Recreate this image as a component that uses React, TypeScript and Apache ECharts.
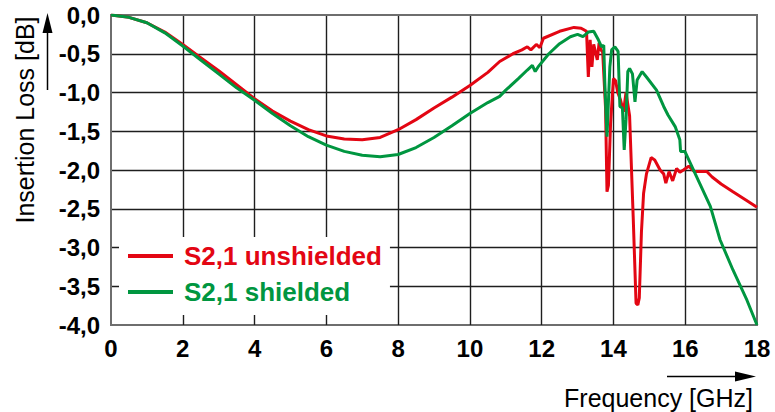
import React, { useEffect, useRef } from "react";
import * as echarts from "echarts";

// ---- data ----
const xTicks = [0, 2, 4, 6, 8, 10, 12, 14, 16, 18];
const seriesNames = ["S2,1 unshielded", "S2,1 shielded"];

const freqUnshielded = [
  0, 0.5, 1, 1.5, 2, 2.5, 3, 3.5, 4, 4.5, 5, 5.5, 6, 6.5, 7, 7.5, 8, 8.5, 9, 9.5, 10, 10.5,
  10.83, 11.2, 11.45, 11.6, 11.7, 11.85, 11.95, 12.05, 12.5, 12.9, 13.1, 13.25, 13.3, 13.35,
  13.4, 13.45, 13.55, 13.6, 13.65, 13.7, 13.78, 13.82, 13.86, 13.92, 14.0, 14.06, 14.12, 14.2,
  14.28, 14.35, 14.45, 14.55, 14.63, 14.68, 14.72, 14.78, 14.84, 14.92, 15.05, 15.15, 15.3, 15.4,
  15.46, 15.55, 15.65, 15.76, 15.85, 15.95, 16.1, 16.25, 16.6, 16.75, 17.0, 17.33, 17.7, 18.0,
];
const lossUnshielded = [
  0, -0.03, -0.1, -0.22, -0.38, -0.55, -0.72, -0.9, -1.08, -1.24, -1.37, -1.48, -1.56, -1.6, -1.61,
  -1.58, -1.48, -1.35, -1.2, -1.06, -0.91, -0.74, -0.6, -0.5, -0.45, -0.41, -0.45, -0.38, -0.42,
  -0.3, -0.21, -0.16, -0.17, -0.21, -0.8, -0.32, -0.67, -0.38, -0.58, -0.36, -0.45, -0.48, -1.2,
  -2.28, -2.2, -1.4, -0.82, -0.85, -1.0, -1.1, -1.25, -1.0, -1.3, -2.6, -3.72, -3.74, -3.65, -2.8,
  -2.3, -2.05, -1.84, -1.87, -2.0, -2.05, -2.17, -2.02, -2.14, -1.98, -2.03, -2.0, -1.95, -2.02,
  -2.02, -2.09, -2.18, -2.28, -2.39, -2.48,
];

const freqShielded = [
  0, 0.5, 1, 1.5, 2, 2.5, 3, 3.5, 4, 4.5, 5, 5.5, 6, 6.5, 7, 7.5, 8, 8.5, 9, 9.5, 10, 10.5,
  10.83, 11.0, 11.35, 11.6, 11.74, 11.82, 11.9, 12.2, 12.5, 12.8, 13.0, 13.15, 13.3, 13.45, 13.58,
  13.67, 13.73, 13.76, 13.82, 13.9, 13.95, 14.04, 14.13, 14.18, 14.25, 14.3, 14.35, 14.4, 14.45,
  14.53, 14.6, 14.66, 14.8, 14.92, 15.2, 15.4, 15.52, 15.72, 15.85, 15.87, 15.99, 16.4, 16.7,
  16.97, 17.33, 17.72, 18.0,
];
const lossShielded = [
  0, -0.03, -0.1, -0.23, -0.4, -0.58, -0.76, -0.94, -1.1, -1.27, -1.43, -1.57, -1.68, -1.76, -1.81,
  -1.83, -1.8, -1.71, -1.58, -1.43, -1.27, -1.13, -1.05, -0.97, -0.82, -0.71, -0.65, -0.73, -0.67,
  -0.5, -0.37, -0.28, -0.25, -0.28, -0.22, -0.21, -0.32, -0.41, -0.39, -0.88, -1.57, -0.67, -0.45,
  -0.41, -0.47, -1.18, -1.2, -1.74, -1.35, -0.73, -0.69, -0.76, -1.12, -0.84, -0.73, -0.8, -0.97,
  -1.18, -1.29, -1.44, -1.61, -1.76, -1.76, -2.17, -2.47, -2.9, -3.29, -3.68, -4.0,
];

const RED = "#e30613";
const GREEN = "#009640";
const FONT = "'Liberation Sans', Arial, Helvetica, sans-serif";

export default function App() {
  const ref = useRef<HTMLDivElement>(null);

  useEffect(() => {
    if (!ref.current) return;
    const chart = echarts.init(ref.current, null, { renderer: "svg" });
    const red = freqUnshielded.map((f, i) => [f, lossUnshielded[i]]);
    const green = freqShielded.map((f, i) => [f, lossShielded[i]]);

    chart.setOption({
      animation: false,
      backgroundColor: "#ffffff",
      textStyle: { fontFamily: FONT },
      grid: {
        left: 111,
        right: 18,
        top: 15,
        bottom: 87,
        show: true,
        borderColor: "#6e6e6e",
        borderWidth: 2,
        backgroundColor: "transparent",
      },
      legend: {
        left: 119,
        top: 237,
        orient: "vertical",
        backgroundColor: "#ffffff",
        padding: [4, 8, 8, 9],
        itemGap: 6,
        itemWidth: 45,
        itemHeight: 4,
        icon: "rect",
        data: [
          { name: seriesNames[0], textStyle: { color: RED } },
          { name: seriesNames[1], textStyle: { color: GREEN } },
        ],
        textStyle: {
          fontFamily: FONT,
          fontSize: 26,
          fontWeight: "bold",
          lineHeight: 30,
          padding: [0, 0, 0, 6],
        },
      },
      xAxis: {
        type: "value",
        min: xTicks[0],
        max: xTicks[xTicks.length - 1],
        interval: 2,
        axisLine: { show: true, lineStyle: { color: "#6e6e6e", width: 2 } },
        axisTick: { show: false },
        axisLabel: {
          color: "#000",
          fontFamily: FONT,
          fontSize: 24,
          fontWeight: "bold",
          margin: 11,
        },
        splitLine: {
          show: true,
          showMinLine: false,
          showMaxLine: false,
          lineStyle: { color: "#1e1e1e", width: 1.4 },
        },
      },
      yAxis: {
        type: "value",
        min: -4,
        max: 0,
        interval: 0.5,
        axisLine: { show: true, lineStyle: { color: "#6e6e6e", width: 2 } },
        axisTick: { show: false },
        axisLabel: {
          color: "#000",
          fontFamily: FONT,
          fontSize: 24,
          fontWeight: "bold",
          margin: 11,
          formatter: (v: number) => v.toFixed(1).replace(".", ","),
        },
        splitLine: {
          show: true,
          showMinLine: false,
          showMaxLine: false,
          lineStyle: { color: "#1e1e1e", width: 1.4 },
        },
      },
      series: [
        {
          name: seriesNames[0],
          type: "line",
          data: red,
          showSymbol: false,
          symbol: "none",
          lineStyle: { color: RED, width: 3 },
          itemStyle: { color: RED },
          z: 2,
        },
        {
          name: seriesNames[1],
          type: "line",
          data: green,
          showSymbol: false,
          symbol: "none",
          lineStyle: { color: GREEN, width: 3 },
          itemStyle: { color: GREEN },
          z: 3,
        },
      ],
      graphic: [
        {
          type: "text",
          x: 25,
          y: 120,
          rotation: Math.PI / 2,
          style: {
            text: "Insertion Loss [dB]",
            font: `25px ${FONT}`,
            fill: "#000",
            align: "center",
            verticalAlign: "middle",
          },
        },
        {
          type: "line",
          shape: { x1: 47.5, y1: 90, x2: 47.5, y2: 28 },
          style: { stroke: "#000", lineWidth: 1.5 },
        },
        {
          type: "polygon",
          shape: { points: [[47.5, 13], [42.5, 33], [52.5, 33]] },
          style: { fill: "#000" },
        },
        {
          type: "text",
          x: 753,
          y: 398,
          style: {
            text: "Frequency [GHz]",
            font: `25px ${FONT}`,
            fill: "#000",
            align: "right",
            verticalAlign: "middle",
          },
        },
        {
          type: "line",
          shape: { x1: 667, y1: 376.5, x2: 740, y2: 376.5 },
          style: { stroke: "#000", lineWidth: 1.5 },
        },
        {
          type: "polygon",
          shape: { points: [[756, 376.5], [735, 371.5], [735, 381.5]] },
          style: { fill: "#000" },
        },
      ],
    });

    return () => chart.dispose();
  }, []);

  return (
    <div
      ref={ref}
      style={{ position: "fixed", left: 0, top: 0, width: 775, height: 412 }}
    />
  );
}
